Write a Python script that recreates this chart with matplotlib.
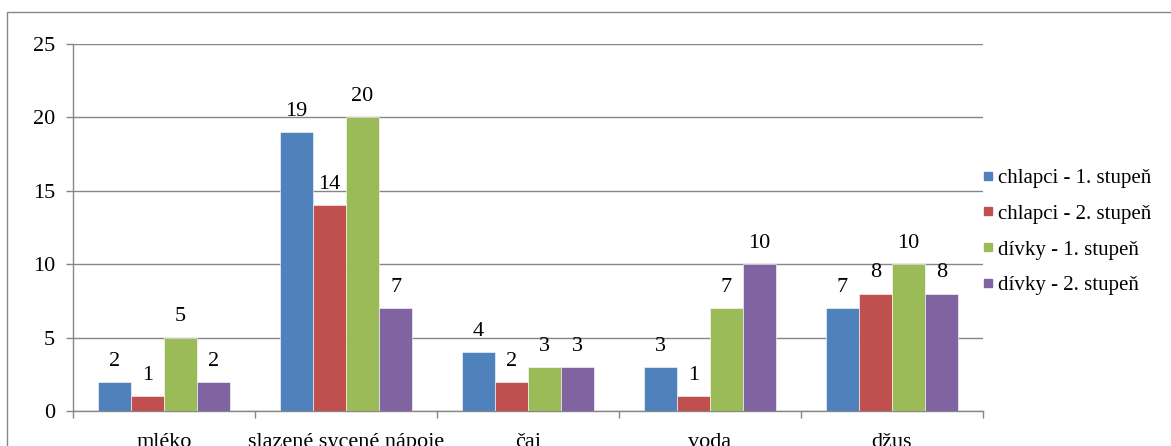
import numpy as np
import matplotlib.pyplot as plt
from matplotlib.lines import Line2D
from matplotlib.patches import Rectangle

# Data
categories = ["mléko", "slazené sycené nápoje", "čaj", "voda", "džus"]
series_names = ["chlapci - 1. stupeň", "chlapci - 2. stupeň",
                "dívky - 1. stupeň", "dívky - 2. stupeň"]
chlapci_1 = [2, 19, 4, 3, 7]
chlapci_2 = [1, 14, 2, 1, 8]
divky_1 = [5, 20, 3, 7, 10]
divky_2 = [2, 7, 3, 10, 8]
values = [chlapci_1, chlapci_2, divky_1, divky_2]
colors = ["#4F81BD", "#C0504D", "#9BBB59", "#8064A2"]

plt.rcParams['font.family'] = ['Liberation Serif', 'DejaVu Serif']
fs = 16
W, H = 1171, 446
fig = plt.figure(figsize=(W / 100, H / 100), dpi=100)

# outer frame of the chart (cut at the right/bottom)
fig.patches.append(Rectangle((7 / W, -0.1), 1.2, (H - 12) / H + 0.1,
                             transform=fig.transFigure, fill=False,
                             edgecolor="#868686", linewidth=1.0))

ax = fig.add_axes([73 / W, (H - 411) / H, (983 - 73) / W, (411 - 44) / H])

x = np.arange(len(categories))
w = 1 / 5.5
for j, (vals, col, name) in enumerate(zip(values, colors, series_names)):
    pos = x + (j - 1.5) * w
    ax.bar(pos, vals, width=w, color=col, edgecolor="white", linewidth=0.4,
           label=name, zorder=3)
    for p, v in zip(pos, vals):
        ax.annotate(str(v), (p, v), xytext=(0, 8), textcoords="offset points",
                    ha="center", va="bottom", fontsize=fs)

ax.set_xlim(-0.5, len(categories) - 0.5)
ax.set_ylim(0, 25)
ax.set_yticks(range(0, 26, 5))
ax.yaxis.grid(True, color="#868686", linewidth=1.0, zorder=0)
ax.set_axisbelow(True)

ax.set_xticks(x)
ax.set_xticklabels(categories, fontsize=fs)
ax.set_xticks(np.arange(-0.5, len(categories)), minor=True)
ax.tick_params(axis="x", which="major", length=0, pad=16)
ax.tick_params(axis="x", which="minor", length=5, color="#868686", width=1.0)
ax.tick_params(axis="y", length=5, color="#868686", width=1.0, pad=8,
               labelsize=fs)

for s in ["top", "right"]:
    ax.spines[s].set_visible(False)
for s in ["left", "bottom"]:
    ax.spines[s].set_color("#868686")
    ax.spines[s].set_linewidth(1.0)

handles = [Line2D([], [], marker="s", linestyle="none", markersize=6,
                  markerfacecolor=c, markeredgecolor=c) for c in colors]
fig.legend(handles, series_names, loc="upper left",
           bbox_to_anchor=(973 / W, (H - 160) / H), frameon=False,
           fontsize=15, handlelength=0.6, handletextpad=0.2,
           labelspacing=0.78, borderaxespad=0)

fig.savefig("out.png", dpi=100)
